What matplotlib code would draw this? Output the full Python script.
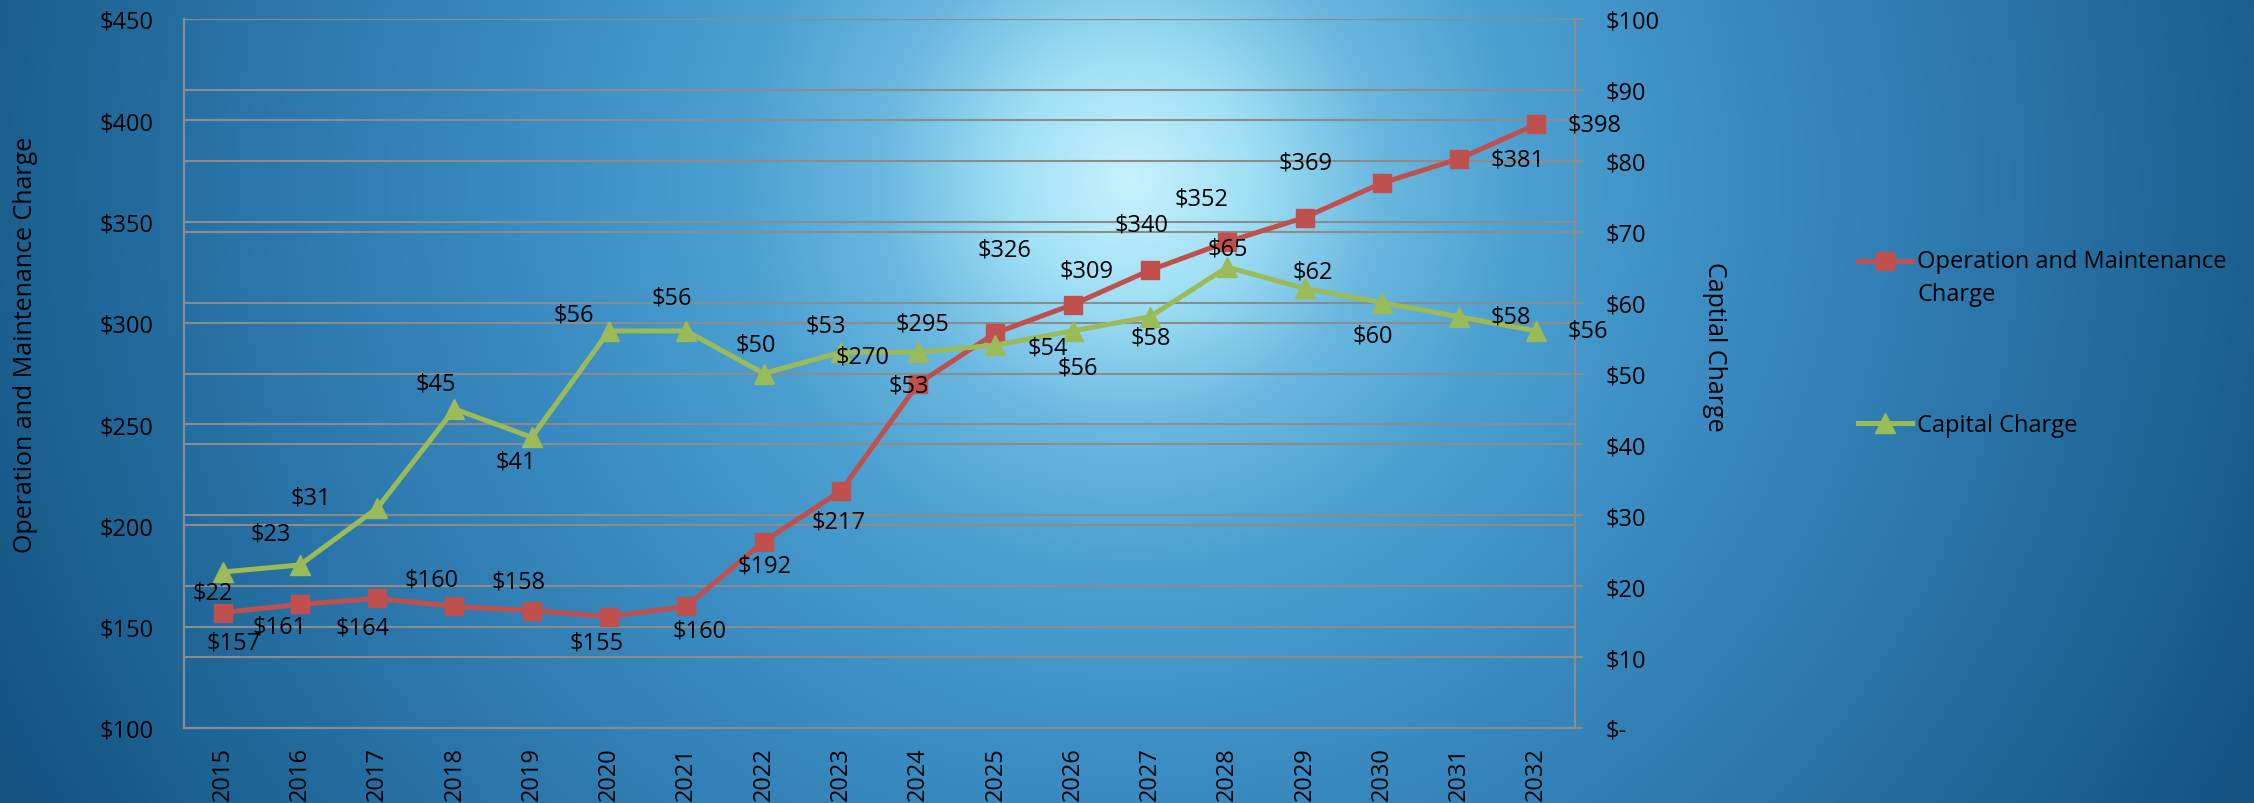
import numpy as np
import matplotlib.pyplot as plt
from matplotlib.colors import to_rgb
from matplotlib.lines import Line2D
from matplotlib.ticker import FuncFormatter
from matplotlib.transforms import Affine2D

years = ['2015', '2016', '2017', '2018', '2019', '2020', '2021', '2022', '2023',
         '2024', '2025', '2026', '2027', '2028', '2029', '2030', '2031', '2032']
om_charge = [157, 161, 164, 160, 158, 155, 160, 192, 217,
             270, 295, 309, 326, 340, 352, 369, 381, 398]
capital_charge = [22, 23, 31, 45, 41, 56, 56, 50, 53,
                  53, 54, 56, 58, 65, 62, 60, 58, 56]

# label offsets in pixels (dx, dy with y down)
om_offsets = [(11, 30), (-20, 22), (-15, 29), (-23, -27), (-13, -29), (-12, 26), (13, 24),
              (1, 24), (-2, 31), (-56, -27), (-73, -9), (14, -34), (-146, -21), (-86, -17),
              (-103, -19), (-76, -21), (58, 1), (58, 0)]
cap_offsets = [(-10, 20), (-29, -31), (-66, -11), (-19, -25), (-16, 24), (-35, -16), (-15, -33),
               (-8, -29), (-15, -27), (-9, 33), (52, 2), (5, 37), (1, 21), (1, -19),
               (8, -17), (-9, 33), (52, 0), (51, 0)]

RED = '#c0504d'
GREEN = '#9bbb59'
GRID = '#8c8c8c'
FONT = ['Open Sans', 'DejaVu Sans']
FS = 17

plt.rcParams['font.family'] = FONT

W, H = 2254, 804
fig = plt.figure(figsize=(W / 100, H / 100), dpi=100)


def background(fig):
    yy, xx = np.mgrid[0:H, 0:W]
    r = np.sqrt((xx - 1130.0) ** 2 + (yy - 180.0) ** 2)
    stops = [0, 120, 250, 400, 600, 850, 1100, 1300, 1500]
    cols = ['#c8f2fd', '#a0e0f5', '#6ab8e0', '#4a9fd0', '#3a8cc2',
            '#2c78ad', '#1c6292', '#124f7c', '#0c4570']
    rgb = np.array([to_rgb(c) for c in cols])
    img = np.dstack([np.interp(r, stops, rgb[:, i]) for i in range(3)])
    bg = fig.add_axes([0, 0, 1, 1], zorder=-10)
    bg.imshow(img, aspect='auto', interpolation='bilinear')
    bg.axis('off')


background(fig)

left, right, top, bottom = 184, 1575, 20, 729
ax = fig.add_axes([left / W, 1 - bottom / H, (right - left) / W, (bottom - top) / H])
ax.set_facecolor('none')
ax2 = ax.twinx()
ax2.set_facecolor('none')

x = np.arange(len(years))
ax.set_xlim(-0.5, len(years) - 0.5)
ax.set_ylim(100, 450)
ax.set_yticks(np.arange(100, 451, 50))
ax2.set_ylim(0, 100)
ax2.set_yticks(np.arange(0, 101, 10))

ax.yaxis.set_major_formatter(FuncFormatter(lambda v, p: '$%d' % v))
ax2.yaxis.set_major_formatter(FuncFormatter(lambda v, p: '$-' if v == 0 else '$%d' % v))

ax.set_xticks(x)
ax.set_xticklabels(years, rotation=90, fontsize=FS, color='black')
ax.tick_params(axis='x', length=0, pad=13)
ax.tick_params(axis='y', length=0, pad=22, labelsize=FS, labelcolor='black')
ax2.tick_params(axis='y', length=6, width=1.5, color=GRID, direction='out', pad=16,
                labelsize=FS, labelcolor='black')

ax.yaxis.grid(True, color=GRID, linewidth=1.5)
ax2.yaxis.grid(True, color=GRID, linewidth=1.5)
ax2.set_axisbelow(True)
ax.set_axisbelow(True)

for a in (ax, ax2):
    for s in a.spines.values():
        s.set_color(GRID)
        s.set_linewidth(1.5)
    a.spines['top'].set_visible(False)

# both series in ax2 so the gridlines of ax2 stay below them
ax2.plot(x, om_charge, color=RED, linewidth=3.6, marker='s', markersize=13.5,
         transform=ax.transData, zorder=3)
ax2.plot(x, capital_charge, color=GREEN, linewidth=3.6, marker='^', markersize=14,
         zorder=4)

for i, v in enumerate(om_charge):
    dx, dy = om_offsets[i]
    ax2.annotate('$%d' % v, (x[i], v), xycoords=ax.transData, xytext=(dx, -dy),
                 textcoords='offset pixels', ha='center', va='center',
                 fontsize=FS, color='black', zorder=6, annotation_clip=False)
for i, v in enumerate(capital_charge):
    dx, dy = cap_offsets[i]
    ax2.annotate('$%d' % v, (x[i], v), xytext=(dx, -dy),
                 textcoords='offset pixels', ha='center', va='center',
                 fontsize=FS, color='black', zorder=6, annotation_clip=False)

fig.text(26 / W, 1 - 345 / H, 'Operation and Maintenance Charge', rotation=90,
         ha='center', va='center', fontsize=18, color='black')
fig.text(1714 / W, 1 - 347 / H, 'Captial Charge', rotation=270,
         ha='center', va='center', fontsize=18, color='black')

handles = [Line2D([], [], color=RED, linewidth=3.6, marker='s', markersize=13.5),
           Line2D([], [], color=GREEN, linewidth=3.6, marker='^', markersize=14)]
leg = fig.legend(handles, ['Operation and Maintenance\nCharge', 'Capital Charge'],
                 loc='upper left', bbox_to_anchor=(1858 / W, 1 - 250 / H),
                 frameon=False, fontsize=FS, handlelength=2.3, handletextpad=0.2,
                 labelspacing=4.55, borderpad=0, borderaxespad=0)
for t in leg.get_texts():
    t.set_linespacing(1.5)
    t.set_color('black')
# put the first handle next to the first text line, like the original
h0 = leg.legend_handles[0]
h0.set_transform(h0.get_transform() + Affine2D().translate(0, 17))

fig.savefig('out.png', dpi=100)
